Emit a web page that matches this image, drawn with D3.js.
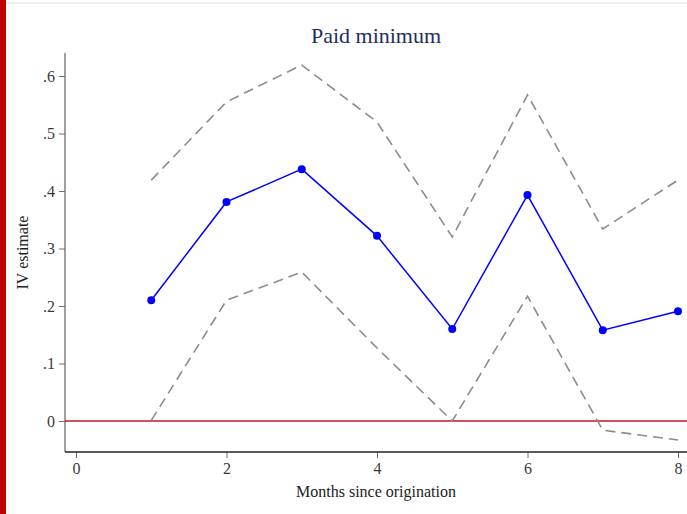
<!DOCTYPE html>
<html>
<head>
<meta charset="utf-8">
<script src="https://cdn.jsdelivr.net/npm/d3@7"></script>
<style>
  body { margin: 0; background: #fff; }
  svg { display: block; }
  text { font-family: "Liberation Serif", "DejaVu Serif", serif; }
</style>
</head>
<body>
<div id="chart"></div>
<script>
// months since origination, IV estimate and its confidence band
var months = [1, 2, 3, 4, 5, 6, 7, 8];
var estimate = [0.210, 0.381, 0.438, 0.322, 0.160, 0.393, 0.158, 0.191];
var upper = [0.419, 0.555, 0.619, 0.520, 0.320, 0.567, 0.334, 0.419];
var lower = [0.001, 0.210, 0.259, 0.127, 0.000, 0.217, -0.016, -0.033];
var xTicks = [0, 2, 4, 6, 8];
var yTicks = [0, 0.1, 0.2, 0.3, 0.4, 0.5, 0.6];

var width = 687, height = 514;

var svg = d3.select("#chart").append("svg")
	.attr("width", width)
	.attr("height", height);

// frame decorations: red strip on the left, faint rule on top
svg.append("rect").attr("x", 0).attr("y", 0).attr("width", 6).attr("height", height).attr("fill", "#c00000");
svg.append("rect").attr("x", 6).attr("y", 2).attr("width", width - 6).attr("height", 2).attr("fill", "#eceff0");

var x = d3.scaleLinear().domain([0, 8]).range([76, 678]);
var y = d3.scaleLinear().domain([0, 0.6]).range([421, 76]);

var plotLeft = 65, plotBottom = 452, plotTop = 53;

// y axis
var yAxis = svg.append("g")
	.attr("transform", "translate(" + plotLeft + ",0)")
	.call(d3.axisLeft(y).tickValues(yTicks).tickSize(6).tickPadding(4)
		.tickFormat(function(d) { return d === 0 ? "0" : d3.format(".1f")(d).replace(/^0/, ""); }));
yAxis.select(".domain").remove();
yAxis.append("line")
	.attr("x1", 0).attr("x2", 0).attr("y1", plotTop).attr("y2", plotBottom)
	.attr("stroke", "#6e6e6e").attr("stroke-width", 1.3);
yAxis.selectAll(".tick line").attr("stroke", "#6e6e6e");
yAxis.selectAll(".tick text").attr("fill", "#3a3a3a").style("font-size", "16px")
	.style("font-family", "Liberation Serif, serif");

// x axis
var xAxis = svg.append("g")
	.attr("transform", "translate(0," + plotBottom + ")")
	.call(d3.axisBottom(x).tickValues(xTicks).tickSize(6).tickPadding(5).tickFormat(d3.format("d")));
xAxis.select(".domain").remove();
xAxis.append("line")
	.attr("x1", plotLeft).attr("x2", width).attr("y1", 0).attr("y2", 0)
	.attr("stroke", "#222").attr("stroke-width", 1.3);
xAxis.selectAll(".tick line").attr("stroke", "#6e6e6e");
xAxis.selectAll(".tick text").attr("fill", "#3a3a3a").style("font-size", "16px")
	.style("font-family", "Liberation Serif, serif");

// zero reference line
svg.append("line")
	.attr("x1", plotLeft).attr("x2", width)
	.attr("y1", y(0)).attr("y2", y(0))
	.attr("stroke", "#c8102e").attr("stroke-width", 1.5);

// confidence bands
var line = d3.line()
	.x(function(d, i) { return x(months[i]); })
	.y(function(d) { return y(d); });

[upper, lower].forEach(function(band) {
	svg.append("path")
		.datum(band)
		.attr("d", line)
		.attr("fill", "none")
		.attr("stroke", "#8c8c8c")
		.attr("stroke-width", 1.6)
		.attr("stroke-dasharray", "10,6");
});

// point estimates
svg.append("path")
	.datum(estimate)
	.attr("d", line)
	.attr("fill", "none")
	.attr("stroke", "#0000ff")
	.attr("stroke-width", 1.5);

svg.selectAll(".dot")
	.data(estimate)
	.enter()
	.append("circle")
	.attr("class", "dot")
	.attr("cx", function(d, i) { return x(months[i]); })
	.attr("cy", function(d) { return y(d); })
	.attr("r", 4)
	.attr("fill", "#0000ff");

// titles
svg.append("text")
	.attr("x", (plotLeft + width) / 2)
	.attr("y", 43)
	.attr("text-anchor", "middle")
	.attr("fill", "#1f2f5c")
	.style("font-size", "22px")
	.text("Paid minimum");

svg.append("text")
	.attr("x", (plotLeft + width) / 2)
	.attr("y", 497)
	.attr("text-anchor", "middle")
	.attr("fill", "#222")
	.style("font-size", "16px")
	.text("Months since origination");

svg.append("text")
	.attr("transform", "translate(28," + (plotTop + plotBottom) / 2 + ") rotate(-90)")
	.attr("text-anchor", "middle")
	.attr("fill", "#222")
	.style("font-size", "16px")
	.text("IV estimate");
</script>
</body>
</html>
